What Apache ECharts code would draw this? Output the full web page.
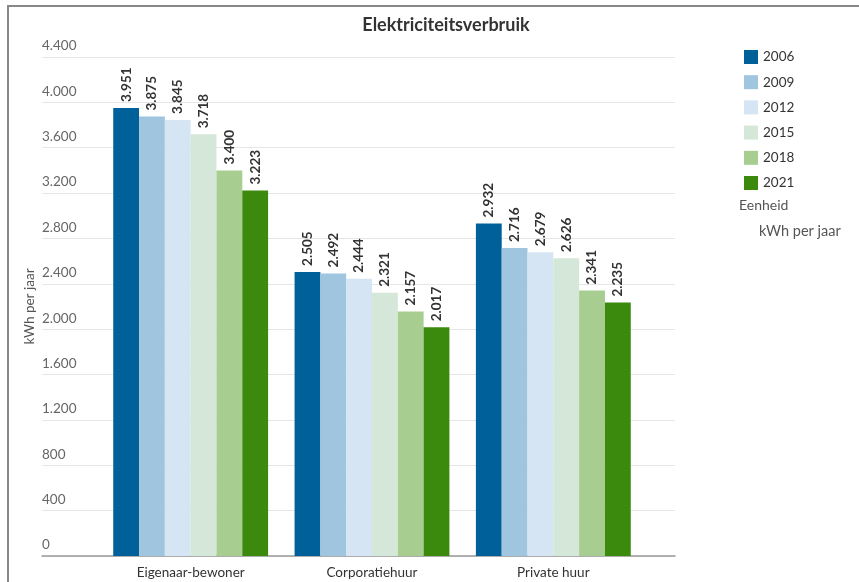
<!DOCTYPE html>
<html>
<head>
<meta charset="utf-8">
<title>Elektriciteitsverbruik</title>
<script src="https://cdn.jsdelivr.net/npm/echarts@6/dist/echarts.min.js"></script>
<style>
  html, body { margin: 0; padding: 0; background: #fff; }
  #chart { width: 859px; height: 582px; }
</style>
</head>
<body>
<div id="chart"></div>
<script>
// categories and values
var categories = ['Eigenaar-bewoner', 'Corporatiehuur', 'Private huur']
var years = ['2006', '2009', '2012', '2015', '2018', '2021']
var v2006 = [3951, 2505, 2932]
var v2009 = [3875, 2492, 2716]
var v2012 = [3845, 2444, 2679]
var v2015 = [3718, 2321, 2626]
var v2018 = [3400, 2157, 2341]
var v2021 = [3223, 2017, 2235]
var yTicks = [0, 400, 800, 1200, 1600, 2000, 2400, 2800, 3200, 3600, 4000, 4400]

var colors = ['#00609a', '#9fc5df', '#d5e5f3', '#d4e7d9', '#a7cd90', '#3b8a0d']
var values = [v2006, v2009, v2012, v2015, v2018, v2021]
var font = 'Lato'

function dotted(n) {
  return String(n).replace(/\B(?=(\d{3})+(?!\d))/g, '.')
}

var chart = echarts.init(document.getElementById('chart'))

var series = years.map(function(y, i) {
  return {
    name: y,
    type: 'bar',
    xAxisIndex: 1,
    yAxisIndex: 1,
    barGap: 0,
    barCategoryGap: '14.6%',
    itemStyle: { color: colors[i] },
    label: {
      show: true,
      position: 'top',
      rotate: 90,
      align: 'left',
      verticalAlign: 'middle',
      distance: 6,
      color: '#333',
      fontFamily: font,
      fontWeight: 'bold',
      fontSize: 13.5,
      formatter: function(p) { return dotted(p.value) }
    },
    data: values[i]
  }
})

chart.setOption({
  animation: false,
  title: {
    text: 'Elektriciteitsverbruik',
    left: 441,
    textAlign: 'center',
    top: 11,
    textStyle: { fontFamily: font, fontSize: 18, fontWeight: 'bold', color: '#333' }
  },
  legend: {
    orient: 'vertical',
    left: 739,
    top: 45,
    icon: 'rect',
    itemWidth: 14,
    itemHeight: 14,
    itemGap: 11.2,
    textStyle: { fontFamily: font, fontSize: 13.5, color: '#333' },
    data: years
  },
  graphic: [
    {
      type: 'rect',
      shape: { x: 8, y: 6, width: 900, height: 620 },
      style: { fill: 'none', stroke: '#888', lineWidth: 2 },
      silent: true
    },
    {
      type: 'text', left: 739, top: 198,
      style: { text: 'Eenheid', fontFamily: font, fontSize: 14, fill: '#555' }
    },
    {
      type: 'text', left: 759, top: 224,
      style: { text: 'kWh per jaar', fontFamily: font, fontSize: 14.5, fill: '#555' }
    }
  ],
  grid: [
    { left: 42, right: 184, top: 57, bottom: 26 },
    { left: 100, right: 215, top: 57, bottom: 26 }
  ],
  xAxis: [
    {
      type: 'category',
      gridIndex: 0,
      data: categories,
      axisLine: { lineStyle: { color: '#999', width: 1.5 } },
      axisTick: { show: false },
      axisLabel: { show: false }
    },
    {
      type: 'category',
      gridIndex: 1,
      data: categories,
      axisLine: { show: false },
      axisTick: { show: false },
      axisLabel: { margin: 10, fontFamily: font, fontSize: 13.5, color: '#333' }
    }
  ],
  yAxis: [
    {
      type: 'value',
      gridIndex: 0,
      min: 0,
      max: 4400,
      interval: 400,
      name: 'kWh per jaar',
      nameLocation: 'middle',
      nameGap: 5,
      nameMoveOverlap: false,
      nameTextStyle: { fontFamily: font, fontSize: 13.5, color: '#555' },
      axisLine: { show: false },
      axisTick: { show: false },
      splitLine: { lineStyle: { color: '#e6e6e6' } },
      axisLabel: {
        inside: true,
        margin: 0,
        verticalAlign: 'bottom',
        padding: [0, 0, 4, 0],
        fontFamily: font,
        fontSize: 13.5,
        color: '#666',
        formatter: function(v) { return yTicks.indexOf(v) >= 0 ? dotted(v) : '' }
      }
    },
    {
      type: 'value',
      gridIndex: 1,
      min: 0,
      max: 4400,
      interval: 400,
      show: false
    }
  ],
  series: series
})
</script>
</body>
</html>
